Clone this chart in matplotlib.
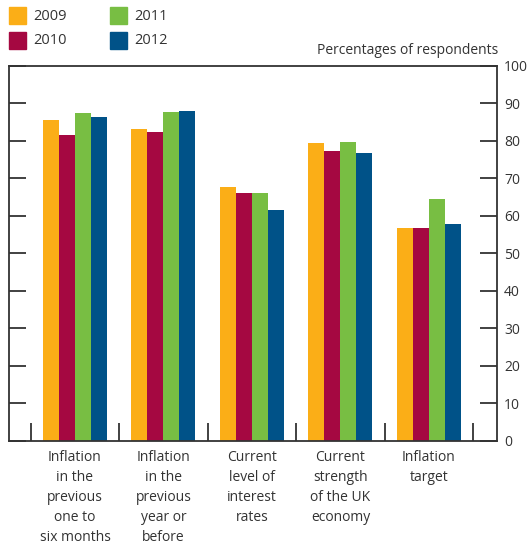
import matplotlib
matplotlib.use("Agg")
import matplotlib.pyplot as plt
import numpy as np
from matplotlib.patches import Rectangle

plt.rcParams['font.family'] = ['Open Sans', 'DejaVu Sans']

categories = [
    "Inflation\nin the\nprevious\none to\nsix months",
    "Inflation\nin the\nprevious\nyear or\nbefore",
    "Current\nlevel of\ninterest\nrates",
    "Current\nstrength\nof the UK\neconomy",
    "Inflation\ntarget",
]
years = ["2009", "2010", "2011", "2012"]
values_2009 = [85.6, 83.2, 67.6, 79.3, 56.6]
values_2010 = [81.6, 82.4, 66.1, 77.1, 56.8]
values_2011 = [87.4, 87.6, 66.0, 79.5, 64.5]
values_2012 = [86.3, 88.0, 61.4, 76.6, 57.9]
y_ticks = [0, 10, 20, 30, 40, 50, 60, 70, 80, 90, 100]

series = [values_2009, values_2010, values_2011, values_2012]
colors = ["#FBAE17", "#A50841", "#78BE43", "#005288"]
ink = "#333333"

fig = plt.figure(figsize=(5.28, 5.46), dpi=100)
ax = fig.add_axes([9 / 528, 1 - 441 / 546, 488 / 528, (441 - 65.5) / 546])

x = np.arange(len(categories))
width = 0.181
for i, (vals, col) in enumerate(zip(series, colors)):
    ax.bar(x + (i - 1.5) * width, vals, width, color=col, edgecolor="none", zorder=2)

ax.set_xlim(-0.746, 4.77)
ax.set_ylim(0, 100)

for s in ax.spines.values():
    s.set_color(ink)
    s.set_linewidth(1.3)

# y ticks: labelled on the right, plain marks on the left, both pointing inward
ax.set_yticks(y_ticks)
ax.yaxis.set_ticks_position("both")
ax.tick_params(axis="y", direction="in", length=12, width=1.3, color=ink,
               labelleft=False, labelright=True, labelsize=10, labelcolor=ink, pad=5)

# x ticks: separators between groups, labels at group centres
ax.set_xticks(np.arange(-0.5, len(categories), 1.0))
ax.set_xticklabels([])
ax.tick_params(axis="x", direction="in", length=13, width=1.3, color=ink)
for xi, lab in zip(x, categories):
    ax.text(xi, -2.5, lab, ha="center", va="top", fontsize=10, color=ink,
            linespacing=1.45, transform=ax.transData, clip_on=False)

fig.text(498 / 528, 1 - 50 / 546, "Percentages of respondents", ha="right",
         va="center", fontsize=10, color=ink)

# legend: coloured squares with year labels in two columns
legend_pos = [(9, 7), (9, 32), (110, 7), (110, 32)]
for (px, py), col, yr in zip(legend_pos, colors, years):
    fig.patches.append(Rectangle((px / 528, 1 - (py + 17) / 546), 17 / 528, 17 / 546,
                                 transform=fig.transFigure, color=col))
    fig.text((px + 24) / 528, 1 - (py + 9) / 546, yr, ha="left", va="center",
             fontsize=10.5, color=ink)

fig.savefig("out.png", dpi=100)
